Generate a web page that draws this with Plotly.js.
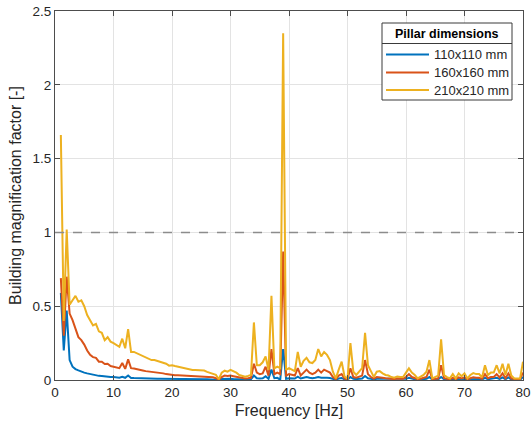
<!DOCTYPE html>
<html>
<head>
<meta charset="utf-8">
<script src="https://cdn.plot.ly/plotly-3.0.1.min.js"></script>
<style>html,body{margin:0;padding:0;background:#fff;}#chart{width:532px;height:427px;}</style>
</head>
<body>
<div id="chart"></div>
<script>
const freq = [
 1.0, 1.5, 2.0, 2.5, 3.0, 3.5, 4.0, 4.5, 5.0, 5.5,
 6.0, 6.5, 7.0, 7.5, 8.0, 8.5, 9.0, 9.5, 10.0, 10.5,
 11.0, 11.5, 12.0, 12.5, 13.0, 13.5, 14.0, 14.5, 15.0, 15.5,
 16.0, 16.5, 17.0, 17.5, 18.0, 18.5, 19.0, 19.5, 20.0, 20.5,
 21.0, 21.5, 22.0, 22.5, 23.0, 23.5, 24.0, 24.5, 25.0, 25.5,
 26.0, 26.5, 27.0, 27.5, 28.0, 28.5, 29.0, 29.5, 30.0, 30.5,
 31.0, 31.5, 32.0, 32.5, 33.0, 33.5, 34.0, 34.5, 35.0, 35.5,
 36.0, 36.5, 37.0, 37.5, 38.0, 38.5, 39.0, 39.5, 40.0, 40.5,
 41.0, 41.5, 42.0, 42.5, 43.0, 43.5, 44.0, 44.5, 45.0, 45.5,
 46.0, 46.5, 47.0, 47.5, 48.0, 48.5, 49.0, 49.5, 50.0, 50.5,
 51.0, 51.5, 52.0, 52.5, 53.0, 53.5, 54.0, 54.5, 55.0, 55.5,
 56.0, 56.5, 57.0, 57.5, 58.0, 58.5, 59.0, 59.5, 60.0, 60.5,
 61.0, 61.5, 62.0, 62.5, 63.0, 63.5, 64.0, 64.5, 65.0, 65.5,
 66.0, 66.5, 67.0, 67.5, 68.0, 68.5, 69.0, 69.5, 70.0, 70.5,
 71.0, 71.5, 72.0, 72.5, 73.0, 73.5, 74.0, 74.5, 75.0, 75.5,
 76.0, 76.5, 77.0, 77.5, 78.0, 78.5, 79.0, 79.5, 80.0
];

const pillar110 = [
 0.59, 0.20, 0.47, 0.135, 0.09, 0.074, 0.065, 0.056, 0.05, 0.045,
 0.04, 0.035, 0.03, 0.028, 0.027, 0.024, 0.022, 0.02, 0.02, 0.018,
 0.016, 0.022, 0.015, 0.03, 0.014, 0.013, 0.012, 0.011, 0.011, 0.01,
 0.01, 0.01, 0.009, 0.009, 0.009, 0.008, 0.008, 0.008, 0.008, 0.007,
 0.007, 0.007, 0.007, 0.006, 0.006, 0.006, 0.006, 0.006, 0.005, 0.005,
 0.005, 0.005, 0.004, 0.003, 0.0, 0.006, 0.008, 0.007, 0.008, 0.007,
 0.006, 0.005, 0.004, 0.003, 0.004, 0.005, 0.03, 0.012, 0.01, 0.012,
 0.025, 0.008, 0.07, 0.012, 0.015, 0.002, 0.21, 0.008, 0.012, 0.01,
 0.01, 0.022, 0.01, 0.015, 0.02, 0.015, 0.012, 0.015, 0.02, 0.015,
 0.018, 0.016, 0.014, 0.006, 0.002, 0.01, 0.014, 0.004, 0.002, 0.02,
 0.008, 0.006, 0.008, 0.01, 0.027, 0.012, 0.008, 0.004, 0.008, 0.008,
 0.006, 0.005, 0.004, 0.003, 0.003, 0.004, 0.003, 0.003, 0.008, 0.015,
 0.008, 0.005, 0.002, 0.003, 0.005, 0.008, 0.02, 0.002, 0.003, 0.004,
 0.02, 0.005, 0.003, 0.002, 0.006, 0.002, 0.007, 0.004, 0.007, 0.002,
 0.005, 0.007, 0.006, 0.006, 0.003, 0.015, 0.005, 0.008, 0.008, 0.015,
 0.007, 0.017, 0.005, 0.017, 0.004, 0.002, 0.002, 0.002, 0.02
];

const pillar160 = [
 0.69, 0.30, 0.70, 0.45, 0.405, 0.35, 0.29, 0.27, 0.24, 0.20,
 0.17, 0.155, 0.15, 0.124, 0.124, 0.108, 0.11, 0.095, 0.09, 0.088,
 0.08, 0.115, 0.075, 0.14, 0.08, 0.078, 0.075, 0.07, 0.065, 0.06,
 0.058, 0.056, 0.054, 0.05, 0.047, 0.045, 0.04, 0.036, 0.034, 0.033,
 0.032, 0.031, 0.03, 0.028, 0.027, 0.027, 0.026, 0.025, 0.025, 0.024,
 0.023, 0.022, 0.018, 0.012, 0.002, 0.02, 0.03, 0.028, 0.03, 0.026,
 0.022, 0.016, 0.014, 0.01, 0.012, 0.015, 0.11, 0.05, 0.04, 0.045,
 0.09, 0.03, 0.21, 0.04, 0.05, 0.04, 0.87, 0.03, 0.04, 0.035,
 0.03, 0.08, 0.03, 0.05, 0.07, 0.05, 0.04, 0.05, 0.07, 0.05,
 0.07, 0.06, 0.05, 0.02, 0.005, 0.03, 0.04, 0.01, 0.005, 0.08,
 0.02, 0.015, 0.02, 0.03, 0.135, 0.04, 0.02, 0.01, 0.02, 0.02,
 0.015, 0.012, 0.01, 0.008, 0.006, 0.01, 0.008, 0.008, 0.02, 0.04,
 0.02, 0.012, 0.005, 0.008, 0.012, 0.02, 0.07, 0.005, 0.008, 0.01,
 0.10, 0.012, 0.008, 0.005, 0.015, 0.005, 0.018, 0.01, 0.018, 0.005,
 0.012, 0.018, 0.015, 0.015, 0.008, 0.04, 0.012, 0.02, 0.02, 0.04,
 0.018, 0.045, 0.012, 0.045, 0.01, 0.005, 0.005, 0.005, 0.05
];

const pillar210 = [
 1.66, 0.40, 1.02, 0.51, 0.54, 0.57, 0.53, 0.54, 0.50, 0.44,
 0.405, 0.37, 0.38, 0.33, 0.32, 0.27, 0.29, 0.26, 0.25, 0.24,
 0.225, 0.28, 0.215, 0.345, 0.19, 0.19, 0.18, 0.175, 0.16, 0.15,
 0.145, 0.135, 0.135, 0.13, 0.125, 0.117, 0.11, 0.097, 0.10, 0.095,
 0.09, 0.088, 0.08, 0.074, 0.072, 0.068, 0.068, 0.066, 0.064, 0.064,
 0.055, 0.047, 0.042, 0.035, 0.005, 0.05, 0.063, 0.056, 0.068, 0.06,
 0.05, 0.034, 0.03, 0.023, 0.028, 0.034, 0.39, 0.10, 0.10, 0.12,
 0.16, 0.068, 0.57, 0.079, 0.09, 0.08, 2.35, 0.068, 0.08, 0.07,
 0.06, 0.19, 0.09, 0.13, 0.15, 0.12, 0.115, 0.135, 0.21, 0.16,
 0.19, 0.17, 0.135, 0.056, 0.011, 0.07, 0.124, 0.023, 0.01, 0.25,
 0.056, 0.034, 0.056, 0.08, 0.32, 0.10, 0.06, 0.02, 0.056, 0.06,
 0.045, 0.034, 0.03, 0.02, 0.016, 0.024, 0.02, 0.02, 0.05, 0.079,
 0.05, 0.034, 0.011, 0.02, 0.034, 0.056, 0.135, 0.011, 0.02, 0.03,
 0.275, 0.034, 0.02, 0.011, 0.04, 0.011, 0.045, 0.025, 0.045, 0.011,
 0.034, 0.047, 0.04, 0.04, 0.018, 0.10, 0.034, 0.05, 0.05, 0.10,
 0.045, 0.11, 0.034, 0.11, 0.03, 0.011, 0.011, 0.011, 0.124
];

const seriesNames = ['110x110 mm', '160x160 mm', '210x210 mm'];
const seriesColors = ['#0072BD', '#D95319', '#EDB120'];
const legendTitle = 'Pillar dimensions';
const referenceLevel = 1;
const xTicks = [0, 10, 20, 30, 40, 50, 60, 70, 80];
const yTicks = [0, 0.5, 1, 1.5, 2, 2.5];

const FONT = '"Liberation Sans", Arial, Helvetica, sans-serif';
const seriesData = [pillar110, pillar160, pillar210];

const W = 532, H = 427;
const M = {l: 55, r: 9, t: 11, b: 47};
const PW = W - M.l - M.r, PH = H - M.t - M.b;
// convert page pixel position to paper fraction (for legend layout only)
const px = v => (v - M.l) / PW;
const py = v => (H - M.b - v) / PH;

const traces = seriesData.map((ys, i) => ({
  x: freq, y: ys, type: 'scatter', mode: 'lines', name: seriesNames[i],
  line: {color: seriesColors[i], width: 2}
}));

const axisCommon = {
  showline: true, mirror: 'ticks', linecolor: '#4d4d4d', linewidth: 1,
  ticks: 'inside', ticklen: 5, tickcolor: '#4d4d4d',
  showgrid: true, gridcolor: '#e3e3e3', gridwidth: 1, zeroline: false,
  tickfont: {family: FONT, size: 13.5, color: '#262626'}
};

// custom legend (box, title separator, samples, labels)
const box = {x0: 382, x1: 512, y0: 23, y1: 100, sep: 43.5};
const rowY = [54.5, 72.5, 90];
const sampleX = [386, 429];
const shapes = [
  {type: 'line', xref: 'x', yref: 'y', x0: xTicks[0], x1: xTicks[xTicks.length - 1], y0: referenceLevel, y1: referenceLevel,
   line: {color: '#8c8c8c', width: 1.5, dash: 'dash'}, layer: 'above'},
  {type: 'rect', xref: 'paper', yref: 'paper', x0: px(box.x0), x1: px(box.x1), y0: py(box.y1), y1: py(box.y0),
   fillcolor: '#ffffff', line: {color: '#3a3a3a', width: 1}, layer: 'above'},
  {type: 'line', xref: 'paper', yref: 'paper', x0: px(box.x0), x1: px(box.x1), y0: py(box.sep), y1: py(box.sep),
   line: {color: '#3a3a3a', width: 1}, layer: 'above'}
];
const annotations = [
  {xref: 'paper', yref: 'paper', x: px((box.x0 + box.x1) / 2), y: py((box.y0 + box.sep) / 2 + 0.5),
   xanchor: 'center', yanchor: 'middle', showarrow: false, text: '<b>' + legendTitle + '</b>',
   font: {family: FONT, size: 12.5, color: '#000000'}}
];
seriesNames.forEach((n, i) => {
  shapes.push({type: 'line', xref: 'paper', yref: 'paper', x0: px(sampleX[0]), x1: px(sampleX[1]),
    y0: py(rowY[i]), y1: py(rowY[i]), line: {color: seriesColors[i], width: 2}, layer: 'above'});
  annotations.push({xref: 'paper', yref: 'paper', x: px(432), y: py(rowY[i]), xanchor: 'left', yanchor: 'middle',
    showarrow: false, text: n, font: {family: FONT, size: 13, color: '#262626'}});
});

const layout = {
  width: W, height: H, margin: M,
  paper_bgcolor: '#ffffff', plot_bgcolor: '#ffffff',
  font: {family: FONT, color: '#262626'},
  showlegend: false,
  xaxis: Object.assign({}, axisCommon, {
    range: [0, 80], tickvals: xTicks,
    title: {text: 'Frequency [Hz]', font: {family: FONT, size: 16, color: '#262626'}, standoff: 5}
  }),
  yaxis: Object.assign({}, axisCommon, {
    range: [0, 2.5], tickvals: yTicks,
    title: {text: 'Building magnification factor [-]', font: {family: FONT, size: 16, color: '#262626'}, standoff: 6}
  }),
  shapes: shapes,
  annotations: annotations
};

Plotly.newPlot('chart', traces, layout, {displayModeBar: false, staticPlot: true});
</script>
</body>
</html>
